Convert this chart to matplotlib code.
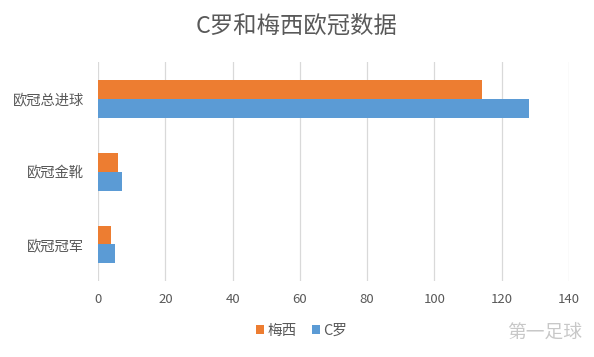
import numpy as np
import matplotlib
matplotlib.use("Agg")
import matplotlib.pyplot as plt

plt.rcParams['font.family'] = ['Noto Sans CJK SC', 'DejaVu Sans']

categories = ["欧冠总进球", "欧冠金靴", "欧冠冠军"]
messi = [114, 6, 4]
ronaldo = [128, 7, 5]
series_names = ["梅西", "C罗"]
x_ticks = [0, 20, 40, 60, 80, 100, 120, 140]

orange = "#ED7D31"
blue = "#5B9BD5"
text_col = "#595959"

fig = plt.figure(figsize=(5.94, 3.57), dpi=100)
ax = fig.add_axes([0.165, 0.213, 0.793, 0.613])

y = np.arange(len(categories))
h = 0.26
ax.barh(y - h / 2, messi, height=h, color=orange, label=series_names[0], zorder=3)
ax.barh(y + h / 2, ronaldo, height=h, color=blue, label=series_names[1], zorder=3)

ax.set_xlim(0, 140)
ax.set_ylim(len(categories) - 0.5, -0.5)
ax.set_xticks(x_ticks)
ax.set_yticks(y)
ax.set_yticklabels(categories)
ax.xaxis.grid(True, color="#D9D9D9", linewidth=0.9, zorder=0)
ax.tick_params(length=0, labelsize=9.5, labelcolor=text_col)
ax.tick_params(axis="y", labelsize=10.3, pad=10)
ax.tick_params(axis="x", pad=9)
for s in ax.spines.values():
    s.set_visible(False)

fig.text(0.5, 0.927, "C罗和梅西欧冠数据", ha="center", va="center",
         fontsize=16.8, color=text_col)

fig.legend(loc="center", bbox_to_anchor=(0.508, 0.073), ncol=2, frameon=False,
           fontsize=10.5, handlelength=0.55, handleheight=0.55, handletextpad=0.25,
           columnspacing=1.0, labelcolor=text_col)

fig.text(0.98, 0.068, "第一足球", ha="right", va="center", fontsize=13.5,
         color="#C8C8C8")

fig.savefig("out.png", dpi=100)
